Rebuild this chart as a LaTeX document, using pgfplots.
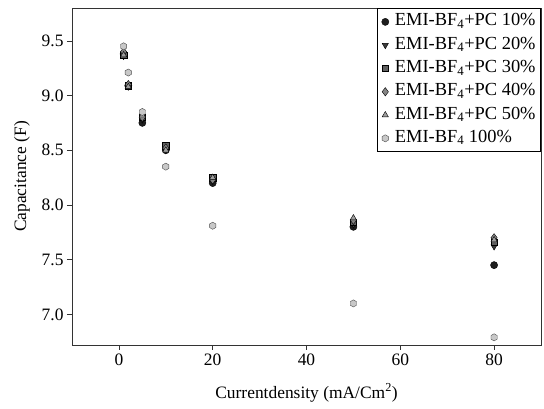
\documentclass[border=0pt]{standalone}
\usepackage{pgfplots}
\pgfplotsset{compat=1.18}
\usepackage{fontspec}
\setmainfont{Liberation Serif}
\definecolor{c10}{HTML}{1E1E1E}
\definecolor{c20}{HTML}{3C3C3C}
\definecolor{c30}{HTML}{606060}
\definecolor{c40}{HTML}{858585}
\definecolor{c50}{HTML}{9E9E9E}
\definecolor{c100}{HTML}{C8C8C8}
\definecolor{axcol}{HTML}{333333}

% hexagon mark for the pure electrolyte
\pgfdeclareplotmark{hex*}{%
  \pgfpathmoveto{\pgfqpointpolar{90}{\pgfplotmarksize}}%
  \pgfpathlineto{\pgfqpointpolar{150}{\pgfplotmarksize}}%
  \pgfpathlineto{\pgfqpointpolar{210}{\pgfplotmarksize}}%
  \pgfpathlineto{\pgfqpointpolar{270}{\pgfplotmarksize}}%
  \pgfpathlineto{\pgfqpointpolar{330}{\pgfplotmarksize}}%
  \pgfpathlineto{\pgfqpointpolar{30}{\pgfplotmarksize}}%
  \pgfpathclose\pgfusepathqfillstroke}

\begin{document}
\begin{tikzpicture}
\begin{axis}[
    scale only axis,
    width=469bp,
    height=337bp,
    xmin=-10, xmax=90,
    ymin=6.72, ymax=9.80,
    xtick={0,20,40,60,80},
    ytick={7.0,7.5,8.0,8.5,9.0,9.5},
    yticklabel style={/pgf/number format/.cd,fixed,fixed zerofill,precision=1},
    /pgf/number format/assume math mode=true,
    tick align=outside,
    xtick pos=bottom,
    ytick pos=left,
    major tick length=5bp,
    tick style={axcol,line width=0.6pt},
    axis line style={axcol,line width=0.8pt},
    ticklabel style={font=\fontsize{17.5}{20}\selectfont},
    label style={font=\fontsize{17.5}{20}\selectfont},
    xlabel={Currentdensity (mA/Cm\textsuperscript{2})},
    ylabel={Capacitance (F)},
    xlabel style={at={(axis description cs:0.5,-0.142)},anchor=center},
    ylabel style={at={(axis description cs:-0.1066,0.5)},anchor=center},
    legend style={at={(1,1)},anchor=north east,draw=black,line width=0.8pt,
        font=\fontsize{18.5}{22}\selectfont,row sep=3.3bp,
        nodes={inner sep=1pt,text height=13bp,text depth=5bp},
        /tikz/every odd column/.append style={column sep=5bp},
        inner xsep=4pt,inner ysep=3.5pt},
    legend cell align=left,
    every axis plot/.append style={only marks,mark size=3.6pt,line width=0.4pt},
]
\addplot[mark=*,fill=c10,draw=black] coordinates {
    (1,9.38) (2,9.09) (5,8.75) (10,8.50) (20,8.20) (50,7.80) (80,7.45)};
\addlegendentry{EMI-BF\textsubscript{4}+PC 10\%}
\addplot[mark=triangle*,mark options={rotate=180},fill=c20,draw=black] coordinates {
    (1,9.36) (2,9.08) (5,8.78) (10,8.50) (20,8.22) (50,7.82) (80,7.62)};
\addlegendentry{EMI-BF\textsubscript{4}+PC 20\%}
\addplot[mark=square*,mark size=3.2pt,fill=c30,draw=black] coordinates {
    (1,9.37) (2,9.09) (5,8.80) (10,8.54) (20,8.25) (50,7.84) (80,7.66)};
\addlegendentry{EMI-BF\textsubscript{4}+PC 30\%}
\addplot[mark=diamond*,mark size=4.2pt,fill=c40,draw=black] coordinates {
    (1,9.40) (2,9.10) (5,8.80) (10,8.52) (20,8.23) (50,7.86) (80,7.70)};
\addlegendentry{EMI-BF\textsubscript{4}+PC 40\%}
\addplot[mark=triangle*,fill=c50,draw=black] coordinates {
    (1,9.37) (2,9.08) (5,8.82) (10,8.50) (20,8.25) (50,7.88) (80,7.68)};
\addlegendentry{EMI-BF\textsubscript{4}+PC 50\%}
\addplot[mark=hex*,fill=c100,draw=black!70] coordinates {
    (1,9.45) (2,9.21) (5,8.85) (10,8.35) (20,7.81) (50,7.10) (80,6.79)};
\addlegendentry{EMI-BF\textsubscript{4} 100\%}
\end{axis}
\pgfresetboundingbox
\path[use as bounding box] ([shift={(-72bp,-64bp)}]current axis.south west)
    rectangle ([shift={(3bp,8bp)}]current axis.north east);
\end{tikzpicture}
\end{document}
